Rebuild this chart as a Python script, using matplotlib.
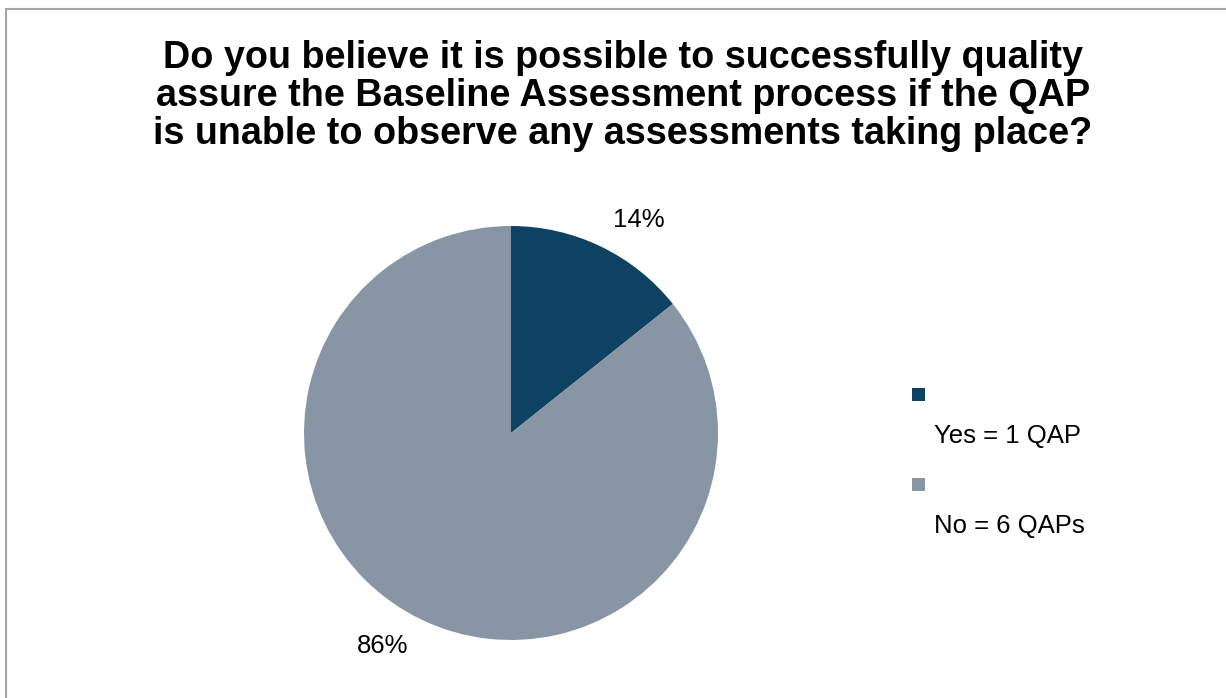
import numpy as np
import matplotlib
matplotlib.use("Agg")
import matplotlib.pyplot as plt
from matplotlib.patches import Rectangle

plt.rcParams['font.family'] = ['Liberation Sans', 'DejaVu Sans']

title = ("Do you believe it is possible to successfully quality\n"
         "assure the Baseline Assessment process if the QAP\n"
         "is unable to observe any assessments taking place?")
categories = ["Yes = 1 QAP", "No = 6 QAPs"]
counts = [1, 6]
colors = ["#0E4263", "#8795A5"]

W, H = 1226, 698
fig = plt.figure(figsize=(W / 100, H / 100), dpi=100)

# border
fig.patches.append(Rectangle((6 / W, -0.05), 1.1, 1 - 9 / H + 0.05,
                             transform=fig.transFigure, fill=False,
                             edgecolor="#A6A6A6", linewidth=1.5))

cx, cy, r = 511, 433, 207
ax = fig.add_axes([(cx - r) / W, (H - cy - r) / H, 2 * r / W, 2 * r / H])
wedges, texts, autotexts = ax.pie(counts, colors=colors, startangle=90,
                                  counterclock=False, radius=1,
                                  autopct=lambda p: f"{p:.0f}%", pctdistance=1.21,
                                  textprops=dict(fontsize=18.5, color="#000000"))
for w, t in zip(wedges, autotexts):
    mid = np.deg2rad((w.theta1 + w.theta2) / 2 - 5.3)
    t.set_position((1.2 * np.cos(mid), 1.2 * np.sin(mid)))
ax.set_xlim(-1, 1)
ax.set_ylim(-1, 1)
ax.set_aspect("equal")
ax.axis("off")

fig.text(623 / W, 1 - 96 / H, title, ha="center", va="center",
         fontsize=27.2, fontweight="bold", linespacing=1.06)

# legend
for i, (lab, col) in enumerate(zip(categories, colors)):
    y0 = 388 + i * 90
    fig.patches.append(Rectangle((912 / W, 1 - (y0 + 13) / H), 13 / W, 13 / H,
                                 transform=fig.transFigure, facecolor=col,
                                 edgecolor="none"))
    fig.text(934 / W, 1 - (y0 + 48) / H, lab, ha="left", va="center", fontsize=18.5)

fig.savefig("out.png", dpi=100)
